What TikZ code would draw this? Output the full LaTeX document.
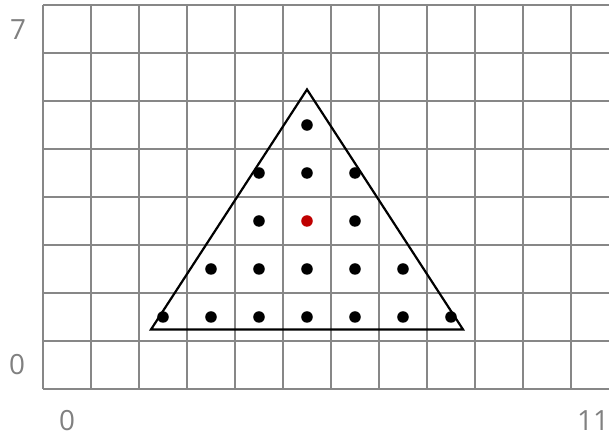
\documentclass[tikz,border=0pt]{standalone}
\usepackage{fontspec}
\setmainfont{Open Sans}
\begin{document}
\begin{tikzpicture}[x=1cm,y=1cm,
  gridline/.style={draw=black!47, line width=1.5pt},
  tri/.style={draw=black, line width=1.3pt, line join=miter},
  dot/.style={circle, fill=black, inner sep=0pt, minimum size=0.24cm},
  reddot/.style={circle, fill=red!75!black, inner sep=0pt, minimum size=0.24cm},
  lbl/.style={text=black!50, font=\fontsize{16.5}{20}\selectfont, inner sep=0pt}]
\useasboundingbox (-0.896,-0.958) rectangle (11.792,8.104);
\clip (-0.896,-0.958) rectangle (11.792,8.104);
\draw[gridline] (0,0) grid (12,8);
% labels
\node[lbl] (ly7) at (-0.52,7.48) {7};
\node[lbl] (ly0) at (-0.54,0.5) {0};
\node[lbl] (lx0) at (0.5,-0.65) {0};
\node[lbl] (lx11) at (11.46,-0.65) {11};
% triangle
\coordinate (A) at (2.25,1.24);
\coordinate (B) at (8.75,1.24);
\coordinate (C) at (5.5,6.24);
\draw[tri] (A) -- (B) -- (C) -- cycle;
% dots
\foreach \c in {2,...,8} \node[dot] (d1-\c) at (\c+0.5,1.5) {};
\foreach \c in {3,...,7} \node[dot] (d2-\c) at (\c+0.5,2.5) {};
\node[dot] (d3-4) at (4.5,3.5) {};
\node[reddot] (d3-5) at (5.5,3.5) {};
\node[dot] (d3-6) at (6.5,3.5) {};
\foreach \c in {4,5,6} \node[dot] (d4-\c) at (\c+0.5,4.5) {};
\node[dot] (d5-5) at (5.5,5.5) {};
\end{tikzpicture}
\end{document}
